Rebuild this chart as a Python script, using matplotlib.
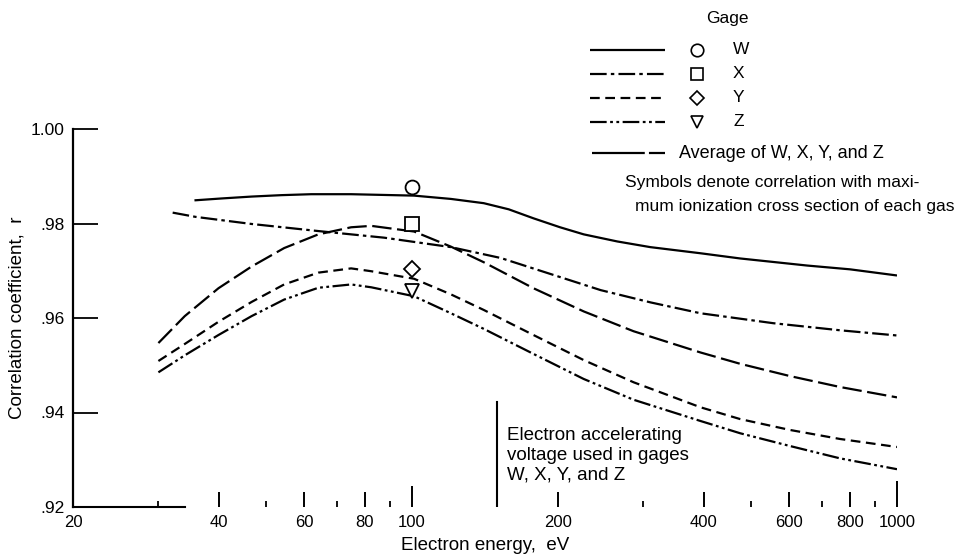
import matplotlib
matplotlib.use("Agg")
import matplotlib.pyplot as plt
from matplotlib.lines import Line2D

#--- DATA ---
w_energy = [35.6, 40.5, 46.7, 53.8, 62, 74.9, 101, 120.3, 140.6, 158.3, 178, 202, 226, 265,
            310, 393.5, 475, 653, 800, 1000]
w_corr = [.9849, .9853, .9857, .9860, .9862, .9862, .9859, .9852, .9843, .9830, .9811, .9792,
          .9777, .9762, .9750, .9737, .9726, .9711, .9703, .9690]

x_energy = [32.1, 35.8, 46.7, 64.1, 87.6, 120.3, 152.4, 193.2, 244.9, 310.4, 393.5, 555.7, 763, 1000]
x_corr = [.9823, .9814, .9799, .9784, .9770, .9750, .9727, .9693, .9659, .9633, .9610, .9589,
          .9574, .9563]

energy = [30, 34, 39.9, 46.7, 54.5, 64.1, 74.9, 82.4, 101, 120.3, 140.6, 178, 225.9, 286.3,
          393.5, 475.2, 602, 762.6, 1000]
avg_corr = [.9547, .9604, .9663, .9709, .9748, .9777, .9792, .9795, .9783, .9751, .9718, .9663,
            .9614, .9572, .9527, .9503, .9477, .9454, .9432]
y_corr = [.9509, .9545, .9592, .9634, .9671, .9696, .9705, .9699, .9683, .9650, .9617, .9564,
          .9511, .9464, .9411, .9386, .9363, .9344, .9327]
z_corr = [.9485, .9521, .9564, .9604, .9639, .9664, .9671, .9665, .9646, .9610, .9577, .9524,
          .9471, .9427, .9382, .9356, .9329, .9303, .9280]

# correlation with maximum ionization cross section (at 100 eV)
sym_energy = 100
sym_corr = {"W": .9878, "X": .980, "Y": .9703, "Z": .9658}

major_ticks = [40, 60, 80, 100, 200, 400, 600, 800, 1000]
minor_ticks = [30, 50, 70, 90, 300, 500, 700, 900]
x_labels = ["20", "40", "60", "80", "100", "200", "400", "600", "800", "1000"]
y_ticks = [.92, .94, .96, .98, 1.00]
y_labels = [".92", ".94", ".96", ".98", "1.00"]
accel_voltage = 150

#--- STYLE ---
plt.rcParams['font.family'] = ['Liberation Sans', 'DejaVu Sans']
plt.rcParams['lines.scale_dashes'] = False
lw = 1.6
styles = {
    "W": (0, ()),
    "X": (0, (12, 3, 2.5, 3)),
    "Y": (0, (7, 4)),
    "Z": (0, (12, 2.5, 2, 2.5, 2, 2.5)),
    "Avg": (0, (14, 4)),
}
markers = {"W": "o", "X": "s", "Y": "D", "Z": "v"}
msizes = {"W": 10, "X": 10, "Y": 8, "Z": 10}

fig = plt.figure(figsize=(9.6, 5.58), dpi=100)
ax = fig.add_axes([73 / 960, 1 - 507 / 558, (897 - 73) / 960, (507 - 129) / 558])

ax.plot(w_energy, w_corr, color='black', lw=lw, linestyle=styles["W"])
ax.plot(x_energy, x_corr, color='black', lw=lw, linestyle=styles["X"])
ax.plot(energy, avg_corr, color='black', lw=lw, linestyle=styles["Avg"])
ax.plot(energy, y_corr, color='black', lw=lw, linestyle=styles["Y"])
ax.plot(energy, z_corr, color='black', lw=lw, linestyle=styles["Z"])

for g, r in sym_corr.items():
    ax.plot([sym_energy], [r], marker=markers[g], ms=msizes[g], mfc='white',
            mec='black', mew=1.3, linestyle='none', zorder=5)

# electron accelerating voltage marker line
ax.plot([accel_voltage, accel_voltage], [.92, .9422], color='black', lw=1.5)
ax.text(157, .9369, "Electron accelerating\nvoltage used in gages\nW, X, Y, and Z",
        fontsize=13.5, va='top', ha='left', linespacing=1.2)

#--- AXES ---
ax.set_xscale('log')
ax.set_xlim(20, 1000)
ax.set_ylim(.92, 1.00)
for s in ['top', 'right']:
    ax.spines[s].set_visible(False)
ax.spines['left'].set_linewidth(1.6)
ax.spines['bottom'].set_linewidth(1.5)
ax.spines['bottom'].set_bounds(20, 34)

ax.set_xticks([20] + major_ticks)
ax.set_xticklabels(x_labels)
ax.set_xticks(minor_ticks, minor=True)
ax.xaxis.set_minor_formatter(plt.NullFormatter())
ax.tick_params(axis='x', which='major', direction='in', length=11, width=1.4,
               labelsize=12, pad=6)
ax.tick_params(axis='x', which='minor', direction='in', length=4, width=1.3)
for t, v in zip(ax.xaxis.get_major_ticks(), [20] + major_ticks):
    if v == 20:
        t.tick1line.set_markersize(0)
    elif v == 100:
        t.tick1line.set_markersize(15)
    elif v == 1000:
        t.tick1line.set_markersize(19)

ax.set_yticks(y_ticks)
ax.set_yticklabels(y_labels)
ax.tick_params(axis='y', direction='in', length=18, width=1.3, labelsize=12.5, pad=6)

ax.set_xlabel("Electron energy,  eV", fontsize=13.5, labelpad=5)
ax.set_ylabel("Correlation coefficient,  r", fontsize=13.5, labelpad=4)

#--- LEGEND (drawn by hand) ---
def fx(px):
    return px / 960

def fy(py):
    return 1 - py / 558

fig.text(fx(727), fy(18), "Gage", fontsize=12.5, ha='center', va='center')
rows = [("W", 50), ("X", 74), ("Y", 98), ("Z", 122)]
for g, py in rows:
    fig.add_artist(Line2D([fx(590), fx(665)], [fy(py), fy(py)], color='black', lw=lw,
                          linestyle=styles[g], transform=fig.transFigure))
    fig.add_artist(Line2D([fx(697)], [fy(py)], marker=markers[g], ms=msizes[g] - 1,
                          mfc='white', mec='black', mew=1.2, transform=fig.transFigure))
    fig.text(fx(733), fy(py), g, fontsize=12.5, ha='left', va='center')
fig.add_artist(Line2D([fx(592), fx(665)], [fy(153), fy(153)], color='black', lw=lw,
                      linestyle=(0, (38, 3, 14, 3)), transform=fig.transFigure))
fig.text(fx(679), fy(153), "Average of W, X, Y, and Z", fontsize=13, ha='left', va='center')
fig.text(fx(625), fy(183), "Symbols denote correlation with maxi-", fontsize=12.5,
         ha='left', va='center')
fig.text(fx(635), fy(207), "mum ionization cross section of each gas", fontsize=12.5,
         ha='left', va='center')

fig.savefig("out.png", dpi=100)
